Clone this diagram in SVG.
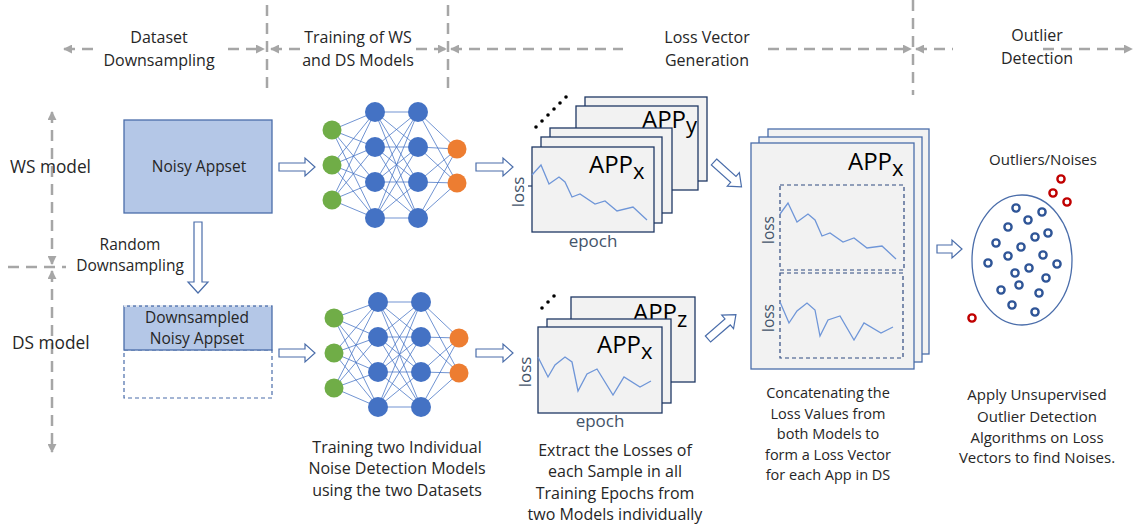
<svg xmlns="http://www.w3.org/2000/svg" width="1135" height="524" viewBox="0 0 1135 524">
<defs>
<style>
text{font-family:"Open Sans","Liberation Sans",sans-serif;fill:#262626}
.hdr{font-size:16px;text-anchor:middle}
.lbl{font-size:17.3px}
.cap{font-size:15.5px;text-anchor:middle}
.c1{font-size:16px;text-anchor:middle}
.c2{font-size:14.5px;text-anchor:middle}
.c3{font-size:15px;text-anchor:middle}
.ax{font-size:17px;fill:#44546A}
.ax2{font-size:15.5px;fill:#44546A}
.app{font-size:24px;fill:#000}
.hd{stroke:#A6A6A6;stroke-width:2.5;stroke-dasharray:11 7;fill:none}
.card{fill:#F2F2F2;stroke:#1F3864;stroke-width:1.3}
.ccard{fill:#F2F2F2;stroke:#4A6DAA;stroke-width:1.3}
.blk{fill:#fff;stroke:#4A6DAA;stroke-width:1.2}
.ln{fill:none;stroke:#6F96D8;stroke-width:1.3}
.dsh{fill:none;stroke:#2F4A80;stroke-width:1.2;stroke-dasharray:4 3}
.edge{fill:none;stroke:#4472C4;stroke-width:0.9;opacity:0.85}
.g{fill:#70AD47}.b{fill:#4472C4}.o{fill:#ED7D31}
.rb{fill:none;stroke:#2F5597;stroke-width:2.4}
.rr{fill:none;stroke:#C00000;stroke-width:2.4}
</style>
<marker id="ah" viewBox="0 0 10 10" refX="9" refY="5" markerWidth="9" markerHeight="9" markerUnits="userSpaceOnUse" orient="auto-start-reverse">
<path d="M0,0 L10,5 L0,10 Z" fill="#A6A6A6"/>
</marker>
</defs>
<rect width="1135" height="524" fill="#fff"/>

<g id="header">
<line class="hd" x1="267" y1="5" x2="267" y2="90"/>
<line class="hd" x1="448" y1="5" x2="448" y2="90"/>
<line class="hd" x1="913" y1="0" x2="913" y2="95"/>
<line class="hd" x1="64" y1="49" x2="98" y2="49" marker-start="url(#ah)"/>
<line class="hd" x1="228" y1="49" x2="264" y2="49" marker-end="url(#ah)"/>
<line class="hd" x1="271" y1="49" x2="302" y2="49" marker-start="url(#ah)"/>
<line class="hd" x1="416" y1="49" x2="446" y2="49" marker-end="url(#ah)"/>
<line class="hd" x1="451" y1="49" x2="623" y2="49" marker-start="url(#ah)"/>
<line class="hd" x1="768" y1="49" x2="911" y2="49" marker-end="url(#ah)"/>
<line class="hd" x1="916" y1="49" x2="953" y2="49" marker-start="url(#ah)"/>
<line class="hd" x1="1043" y1="49" x2="1132" y2="49" marker-end="url(#ah)"/>
<text class="hdr" x="159" y="43">Dataset</text>
<text class="hdr" x="159" y="66">Downsampling</text>
<text class="hdr" x="358" y="43">Training of WS</text>
<text class="hdr" x="358" y="66">and DS Models</text>
<text class="hdr" x="707" y="43">Loss Vector</text>
<text class="hdr" x="707" y="66">Generation</text>
<text class="hdr" x="1037" y="41">Outlier</text>
<text class="hdr" x="1037" y="64">Detection</text>
</g>

<g id="side-axis">
<line class="hd" x1="52" y1="112" x2="52" y2="264" marker-start="url(#ah)" marker-end="url(#ah)"/>
<line class="hd" x1="52" y1="271" x2="52" y2="452" marker-start="url(#ah)" marker-end="url(#ah)"/>
<line class="hd" x1="8" y1="267" x2="66" y2="267"/>
<text class="lbl" x="10" y="173">WS model</text>
<text class="lbl" x="12" y="349">DS model</text>
</g>

<g id="noisy-appset">
<rect x="124" y="120" width="148" height="93" fill="#B4C7E7" stroke="#4A6DAA" stroke-width="1.3"/>
<text class="cap" x="199" y="172">Noisy Appset</text>
</g>

<g id="downsampled-appset">
<rect x="124" y="350" width="148" height="48" fill="#fff" class="dsh" style="stroke:#4A6DAA"/>
<rect x="124" y="306" width="148" height="44" fill="#B4C7E7" stroke="#4A6DAA" stroke-width="1.3"/>
<line x1="124" y1="306" x2="272" y2="306" stroke="#fff" stroke-width="1.5" stroke-dasharray="3 3"/>
<text class="cap" x="197" y="323">Downsampled</text>
<text class="cap" x="197" y="344">Noisy Appset</text>
</g>

<g id="random-downsampling">
<text class="cap" x="130" y="250">Random</text>
<text class="cap" x="130" y="271">Downsampling</text>
</g>

<g id="connectors">
<path class="blk" d="M194,222 H202 V282 H208 L198,293 L188,282 H194 Z"/>
<path class="blk" d="M279,163 H305 V158 L315,167 L305,176 V171 H279 Z"/>
<path class="blk" d="M279,349 H305 V344 L315,353 L305,362 V357 H279 Z"/>
<path class="blk" d="M476,163 H503 V158 L513,167 L503,176 V171 H476 Z"/>
<path class="blk" d="M476,349 H503 V344 L513,353 L503,362 V357 H476 Z"/>
<path class="blk" transform="translate(714,162) rotate(42)" d="M0,-4 H26 V-9 L37,0 L26,9 V4 H0 Z"/>
<path class="blk" transform="translate(708,339) rotate(-41)" d="M0,-4 H26 V-9 L37,0 L26,9 V4 H0 Z"/>
<path class="blk" d="M937,245 H952 V240 L962,249 L952,258 V253 H937 Z"/>
</g>

<g id="ws-network">
<path class="edge" d="M332 130L375 112M332 130L375 147M332 130L375 182M332 130L375 218M332 165L375 112M332 165L375 147M332 165L375 182M332 165L375 218M332 200L375 112M332 200L375 147M332 200L375 182M332 200L375 218M375 112L418 112M375 112L418 147M375 112L418 182M375 112L418 218M375 147L418 112M375 147L418 147M375 147L418 182M375 147L418 218M375 182L418 112M375 182L418 147M375 182L418 182M375 182L418 218M375 218L418 112M375 218L418 147M375 218L418 182M375 218L418 218M418 112L457 149M418 112L457 183M418 147L457 149M418 147L457 183M418 182L457 149M418 182L457 183M418 218L457 149M418 218L457 183"/>
<circle class="g" cx="332" cy="130" r="9.5"/><circle class="g" cx="332" cy="165" r="9.5"/><circle class="g" cx="332" cy="200" r="9.5"/>
<circle class="b" cx="375" cy="112" r="10"/><circle class="b" cx="375" cy="147" r="10"/><circle class="b" cx="375" cy="182" r="10"/><circle class="b" cx="375" cy="218" r="10"/>
<circle class="b" cx="418" cy="112" r="10"/><circle class="b" cx="418" cy="147" r="10"/><circle class="b" cx="418" cy="182" r="10"/><circle class="b" cx="418" cy="218" r="10"/>
<circle class="o" cx="457" cy="149" r="9.5"/><circle class="o" cx="457" cy="183" r="9.5"/>
</g>

<g id="ds-network">
<path class="edge" d="M334 318L378 302M334 318L378 337M334 318L378 372M334 318L378 407M334 353L378 302M334 353L378 337M334 353L378 372M334 353L378 407M334 388L378 302M334 388L378 337M334 388L378 372M334 388L378 407M378 302L421 302M378 302L421 337M378 302L421 372M378 302L421 407M378 337L421 302M378 337L421 337M378 337L421 372M378 337L421 407M378 372L421 302M378 372L421 337M378 372L421 372M378 372L421 407M378 407L421 302M378 407L421 337M378 407L421 372M378 407L421 407M421 302L459 338M421 302L459 373M421 337L459 338M421 337L459 373M421 372L459 338M421 372L459 373M421 407L459 338M421 407L459 373"/>
<circle class="g" cx="334" cy="318" r="9.5"/><circle class="g" cx="334" cy="353" r="9.5"/><circle class="g" cx="334" cy="388" r="9.5"/>
<circle class="b" cx="378" cy="302" r="10"/><circle class="b" cx="378" cy="337" r="10"/><circle class="b" cx="378" cy="372" r="10"/><circle class="b" cx="378" cy="407" r="10"/>
<circle class="b" cx="421" cy="302" r="10"/><circle class="b" cx="421" cy="337" r="10"/><circle class="b" cx="421" cy="372" r="10"/><circle class="b" cx="421" cy="407" r="10"/>
<circle class="o" cx="459" cy="338" r="9.5"/><circle class="o" cx="459" cy="373" r="9.5"/>
</g>

<g id="ws-loss-stack">
<g fill="#000"><circle cx="536" cy="127" r="1.8"/><circle cx="542" cy="121" r="1.8"/><circle cx="548" cy="115" r="1.8"/><circle cx="554" cy="109" r="1.8"/><circle cx="560" cy="103" r="1.8"/><circle cx="566" cy="97" r="1.8"/></g>
<rect class="card" x="585" y="97" width="122" height="84"/>
<rect class="card" x="576" y="106" width="122" height="84"/>
<text class="app" x="642" y="128">APP<tspan dy="5" font-size="22">y</tspan></text>
<rect class="card" x="550" y="128" width="122" height="85"/>
<rect class="card" x="541" y="137" width="121" height="86"/>
<rect class="card" x="532" y="147" width="122" height="85"/>
<text class="app" x="589" y="173">APP<tspan dy="6" font-size="22">x</tspan></text>
<line x1="528" y1="186" x2="532" y2="186" stroke="#1F3864" stroke-width="1.2"/>
<polyline class="ln" points="532,175 541,165 549,184 559,177 565,182 572,197 580,194 595,204 605,201 617,211 633,207 647,220"/>
<text class="ax" transform="translate(524,192) rotate(-90)" text-anchor="middle">loss</text>
<text class="ax" x="593" y="247" text-anchor="middle">epoch</text>
</g>

<g id="ds-loss-stack">
<g fill="#000"><circle cx="542" cy="308" r="1.8"/><circle cx="548" cy="302" r="1.8"/><circle cx="554" cy="296" r="1.8"/></g>
<rect class="card" x="571" y="297" width="124" height="85"/>
<text class="app" x="633" y="321">APP<tspan dy="6" font-size="22">z</tspan></text>
<rect class="card" x="547" y="319" width="124" height="84"/>
<rect class="card" x="538" y="327" width="124" height="86"/>
<text class="app" x="597" y="353">APP<tspan dy="6" font-size="22">x</tspan></text>
<polyline class="ln" points="538,357 548,377 555,365 565,357 572,362 578,391 587,374 597,369 613,395 624,377 640,387 651,381"/>
<text class="ax" transform="translate(531,372) rotate(-90)" text-anchor="middle">loss</text>
<text class="ax" x="600" y="427" text-anchor="middle">epoch</text>
</g>

<g id="loss-vector">
<rect class="ccard" x="768" y="129" width="161" height="225"/>
<rect class="ccard" x="759" y="137" width="163" height="225"/>
<rect class="ccard" x="751" y="143" width="163" height="226"/>
<text class="app" x="848" y="170">APP<tspan dy="6" font-size="22">x</tspan></text>
<rect class="dsh" x="780" y="185" width="124" height="85"/>
<rect class="dsh" x="780" y="273" width="123" height="85"/>
<polyline class="ln" points="780,214 788,203 797,222 808,214 815,220 822,236 830,233 843,242 854,238 867,248 882,246 896,259"/>
<polyline class="ln" points="780,302 789,323 797,311 807,303 815,310 820,336 828,320 840,316 854,340 864,323 881,333 893,327"/>
<text class="ax2" transform="translate(774,230) rotate(-90)" text-anchor="middle">loss</text>
<text class="ax2" transform="translate(774,318) rotate(-90)" text-anchor="middle">loss</text>
</g>

<g id="outliers">
<ellipse cx="1022" cy="260" rx="50" ry="65" fill="none" stroke="#4A6DAA" stroke-width="1.3"/>
<text x="1043" y="165" text-anchor="middle" style="font-size:15px">Outliers/Noises</text>
<circle class="rb" cx="1016" cy="208" r="3.6"/><circle class="rb" cx="1042" cy="212" r="3.6"/><circle class="rb" cx="1028" cy="220" r="3.6"/><circle class="rb" cx="1008" cy="227" r="3.6"/><circle class="rb" cx="1048" cy="233" r="3.6"/><circle class="rb" cx="1035" cy="237" r="3.6"/><circle class="rb" cx="996" cy="243" r="3.6"/><circle class="rb" cx="1021" cy="247" r="3.6"/><circle class="rb" cx="1008" cy="256" r="3.6"/><circle class="rb" cx="1043" cy="255" r="3.6"/><circle class="rb" cx="988" cy="263" r="3.6"/><circle class="rb" cx="1057" cy="264" r="3.6"/><circle class="rb" cx="1029" cy="268" r="3.6"/><circle class="rb" cx="1015" cy="273" r="3.6"/><circle class="rb" cx="1046" cy="278" r="3.6"/><circle class="rb" cx="1019" cy="285" r="3.6"/><circle class="rb" cx="1001" cy="290" r="3.6"/><circle class="rb" cx="1039" cy="293" r="3.6"/><circle class="rb" cx="1012" cy="305" r="3.6"/><circle class="rb" cx="1035" cy="312" r="3.6"/>
<circle class="rr" cx="1061" cy="179" r="3.6"/><circle class="rr" cx="1053" cy="193" r="3.6"/><circle class="rr" cx="1067" cy="202" r="3.6"/><circle class="rr" cx="972" cy="318" r="3.6"/>
</g>

<g id="captions">
<text class="c1" x="397" y="453">Training two Individual</text>
<text class="c1" x="397" y="474">Noise Detection Models</text>
<text class="c1" x="397" y="496">using the two Datasets</text>
<text class="c1" x="615" y="456">Extract the Losses of</text>
<text class="c1" x="615" y="477">each Sample in all</text>
<text class="c1" x="615" y="499">Training Epochs from</text>
<text class="c1" x="615" y="520">two Models individually</text>
<text class="c2" x="828" y="398">Concatenating the</text>
<text class="c2" x="828" y="419">Loss Values from</text>
<text class="c2" x="828" y="439">both Models to</text>
<text class="c2" x="828" y="460">form a Loss Vector</text>
<text class="c2" x="828" y="480">for each App in DS</text>
<text class="c3" x="1037" y="400">Apply Unsupervised</text>
<text class="c3" x="1037" y="422">Outlier Detection</text>
<text class="c3" x="1037" y="443">Algorithms on Loss</text>
<text class="c3" x="1037" y="463">Vectors to find Noises.</text>
</g>
</svg>
